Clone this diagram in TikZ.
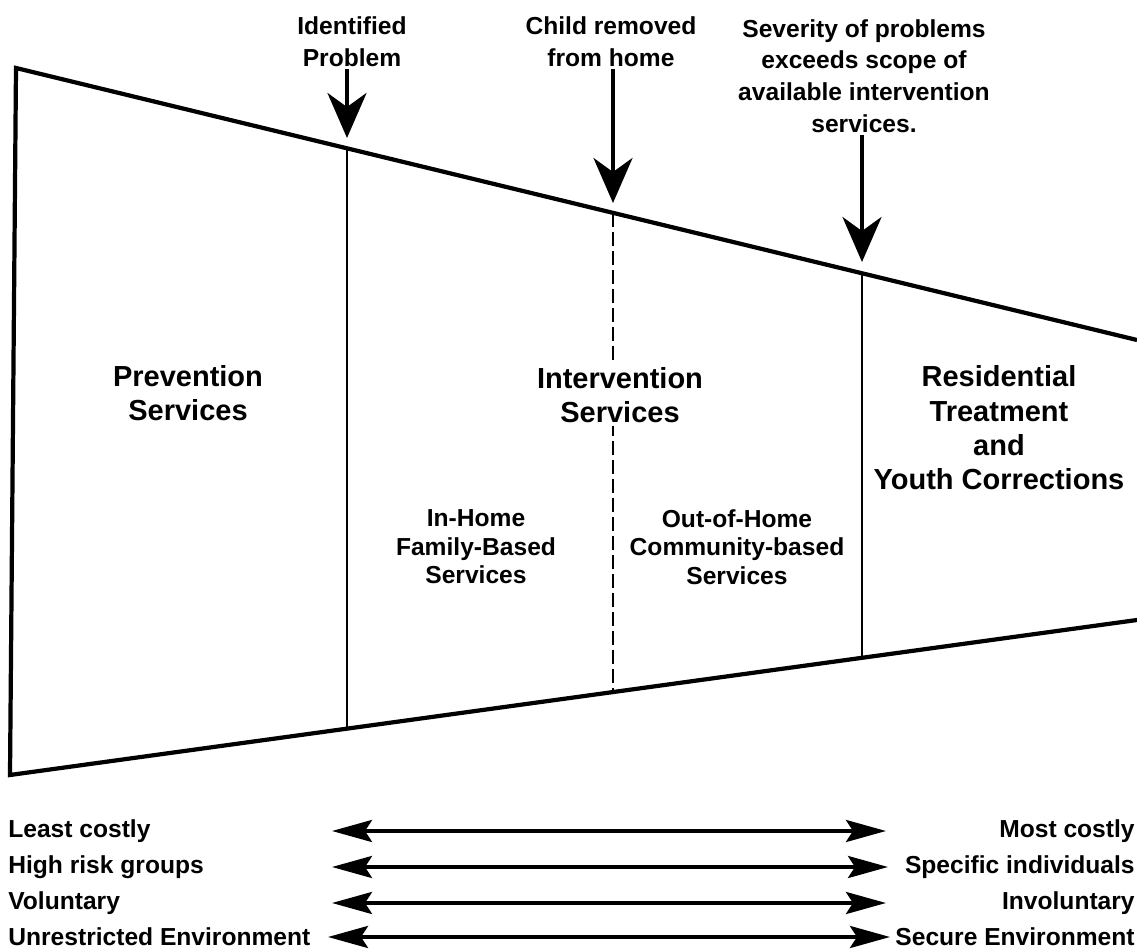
\documentclass[tikz,border=0pt]{standalone}
\usepackage{fontspec}
\setmainfont{Liberation Sans}
\usetikzlibrary{arrows.meta,positioning}

\begin{document}
\begin{tikzpicture}[x=0.02cm, y=-0.02cm,
	funnel/.style={line width=2.4pt, line join=miter},
	divider/.style={line width=1.7pt},
	droparrow/.style={line width=2.2pt, -{Stealth[length=0.9cm, width=0.78cm, inset=0.28cm]}},
	spanarrow/.style={line width=2.2pt, {Stealth[length=0.8cm, width=0.44cm, inset=0.14cm]}-{Stealth[length=0.8cm, width=0.44cm, inset=0.14cm]}},
	eventlabel/.style={align=center, inner sep=1pt, font=\bfseries\fontsize{14}{18}\selectfont},
	servicelabel/.style={align=center, inner sep=2pt, font=\bfseries\fontsize{16.5}{19.5}\selectfont},
	sublabel/.style={align=center, inner sep=1pt, font=\bfseries\fontsize{14}{16.2}\selectfont},
	rowlabel/.style={inner sep=0pt, font=\bfseries\fontsize{14}{16}\selectfont}
	]
	\useasboundingbox (0,0) rectangle (1137,949);
	% funnel outline
	\coordinate (tl) at (16,68);
	\coordinate (tr) at (1137,340);
	\coordinate (bl) at (10,775);
	\coordinate (br) at (1137,620);
	\draw[funnel] (tr) -- (tl) -- (bl) -- (br);
	% stage borders
	\coordinate (top1) at (347,148.3);
	\coordinate (bot1) at (347,728.7);
	\coordinate (top2) at (613,212.9);
	\coordinate (bot2) at (613,692.1);
	\coordinate (top3) at (862,273.3);
	\coordinate (bot3) at (862,657.8);
	\draw[divider] (top1) -- (bot1);
	\draw[divider, dash pattern=on 0.28cm off 0.1cm] (top2) -- (bot2);
	\draw[divider] (top3) -- (bot3);
	% services
	\node[servicelabel] (prevention) at (188,393) {Prevention\\Services};
	\node[servicelabel, fill=white] (intervention) at (620,395) {Intervention\\Services};
	\node[servicelabel] (residential) at (999,428) {Residential\\Treatment\\and\\Youth Corrections};
	\node[sublabel] (inhome) at (476,547) {In-Home\\Family-Based\\Services};
	\node[sublabel] (outhome) at (737,547) {Out-of-Home\\Community-based\\Services};
	% events
	\node[eventlabel] (identified) at (352,42) {Identified\\Problem};
	\node[eventlabel] (removed) at (611,42) {Child removed\\from home};
	\node[eventlabel] (severity) at (864,76) {Severity of problems\\exceeds scope of\\available intervention\\services.};
	\coordinate (hit1) at (347,138);
	\coordinate (hit2) at (613,203);
	\coordinate (hit3) at (862,262);
	\draw[droparrow] (identified.south -| hit1) -- (hit1);
	\draw[droparrow] (removed.south -| hit2) -- (hit2);
	\draw[droparrow] (severity.south -| hit3) -- (hit3);
	% scales
	\node[rowlabel, anchor=west] (leastcostly) at (8,831) {Least costly};
	\node[rowlabel, anchor=west] (highrisk) at (8,867) {High risk groups};
	\node[rowlabel, anchor=west] (voluntary) at (8,903) {Voluntary};
	\node[rowlabel, anchor=west] (unrestricted) at (8,937) {Unrestricted Environment};
	\node[rowlabel, anchor=east] (mostcostly) at (1135,831) {Most costly};
	\node[rowlabel, anchor=east] (specific) at (1135,867) {Specific individuals};
	\node[rowlabel, anchor=east] (involuntary) at (1135,903) {Involuntary};
	\node[rowlabel, anchor=east] (secure) at (1135,937) {Secure Environment};
	\coordinate (from1) at (332,831);
	\coordinate (to1) at (886,831);
	\coordinate (from2) at (332,867);
	\coordinate (to2) at (888,867);
	\coordinate (from3) at (332,903);
	\coordinate (to3) at (886,903);
	\coordinate (from4) at (328,937);
	\coordinate (to4) at (890,937);
	\draw[spanarrow] (from1) -- (to1);
	\draw[spanarrow] (from2) -- (to2);
	\draw[spanarrow] (from3) -- (to3);
	\draw[spanarrow] (from4) -- (to4);
\end{tikzpicture}
\end{document}
